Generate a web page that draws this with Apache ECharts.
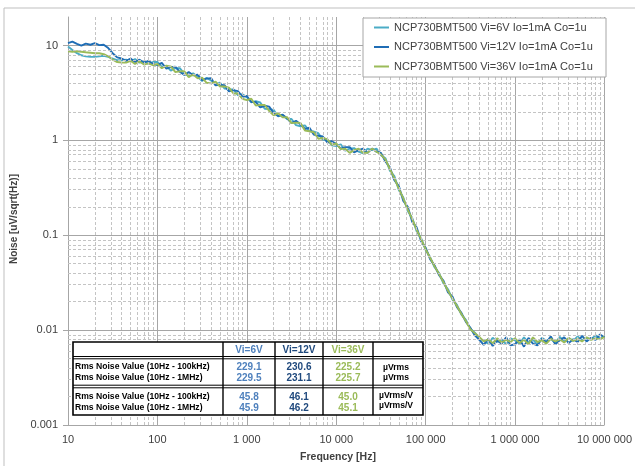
<!DOCTYPE html>
<html><head><meta charset="utf-8">
<script src="https://cdn.jsdelivr.net/npm/echarts@6/dist/echarts.min.js"></script>
<style>html,body{margin:0;padding:0;background:#fff}#c{width:635px;height:466px}</style>
</head><body><div id="c"></div>
<script>
// Frequency points [Hz]
const freqHz = [
10,11.2,12.6,14.1,15.8,17.8,20,22.4,25.1,28.2,31.6,35.5,39.8,44.7,50.1,56.2,63.1,70.8,79.4,89.1,
100,112,126,141,158,178,200,224,251,282,316,355,398,447,501,562,631,708,794,891,
1000,1122,1259,1413,1585,1778,1995,2239,2512,2818,3162,3548,3981,4467,5012,5623,6310,7079,7943,8913,
10000,11220,12590,14130,15850,17780,19950,22390,25120,28180,31620,35480,39810,44670,50120,56230,63100,70790,79430,89130,
100000,112200,125900,141300,158500,177800,199500,223900,251200,281800,316200,354800,398100,446700,501200,562300,631000,707900,794300,891300,
1000000,1122000,1259000,1413000,1585000,1778000,1995000,2239000,2512000,2818000,3162000,3548000,3981000,4467000,5012000,5623000,6310000,7079000,7943000,8913000,
10000000];

// Noise [uV/sqrt(Hz)]
const noise6V = [
9.8,9.0,8.3,7.9,7.7,7.6,7.6,7.7,7.8,7.6, 7.3,7.0,7.0,7.1,6.8,7.2,6.6,6.9,6.4,6.7,
6.72,5.95,6.12,5.45,5.77,5.78,5.04,4.80,5.10,4.70, 4.23,4.57,4.28,3.88,4.08,3.53,3.47,3.45,2.99,3.07,
2.86,2.52,2.60,2.51,2.16,2.14,2.10,1.79,1.85,1.68, 1.68,1.45,1.41,1.44,1.25,1.24,1.19,1.02,1.01,0.89,
0.87,0.91,0.78,0.82,0.83,0.76,0.73,0.82,0.79,0.82, 0.70,0.65,0.48,0.42,0.30,0.25,0.18,0.152,0.110,0.093,
0.07,0.059,0.046,0.04,0.031,0.027,0.021,0.0185,0.0146,0.0128, 0.0103,0.0094,0.0082,0.0077,0.0072,0.0083,0.0075,0.0080,0.0071,0.0082,
0.0078,0.0072,0.0084,0.0074,0.0080,0.0070,0.0083,0.0077,0.0081,0.0073, 0.0085,0.0076,0.0082,0.0077,0.0086,0.0078,0.0083,0.0080,0.0088,0.0082,
0.0087];
const noise12V = [
10.6,11.0,10.4,10.0,10.5,10.2,10.6,10.1,10.2,9.4, 8.3,7.5,7.3,6.9,7.3,6.7,7.1,6.6,6.9,6.4,
6.21,6.57,5.70,5.92,5.99,5.29,4.89,5.25,4.85,4.94, 4.32,4.48,4.54,3.80,3.85,3.83,3.29,3.39,3.31,2.89,
2.94,2.54,2.55,2.23,2.32,2.27,1.94,1.81,1.87,1.71, 1.52,1.61,1.48,1.32,1.36,1.15,1.12,1.10,0.95,0.98,
0.92,0.82,0.85,0.85,0.75,0.79,0.82,0.74,0.82,0.76, 0.74,0.60,0.52,0.38,0.33,0.23,0.20,0.138,0.121,0.086,
0.074,0.056,0.048,0.038,0.033,0.025,0.0225,0.0175,0.0152,0.0122, 0.0106,0.0088,0.0079,0.0070,0.0081,0.0068,0.0078,0.0072,0.0084,0.0069,
0.0071,0.0080,0.0067,0.0083,0.0072,0.0069,0.0081,0.0074,0.0086,0.0071, 0.0078,0.0084,0.0073,0.0080,0.0075,0.0087,0.0076,0.0083,0.0079,0.0090,
0.0084];
const noise36V = [
8.7,8.6,8.7,8.6,8.5,8.4,8.3,8.3,8.1,7.7, 7.1,6.7,6.6,6.6,6.9,6.4,6.8,6.3,6.5,6.2,
6.40,5.77,6.12,6.02,5.27,5.34,5.35,4.65,4.95,4.51, 4.59,4.05,3.99,4.16,3.70,3.71,3.60,3.12,3.12,2.75,
2.66,2.75,2.33,2.37,2.36,2.04,1.84,1.94,1.75,1.76, 1.52,1.54,1.53,1.27,1.25,1.22,1.04,1.06,1.03,0.90,
0.93,0.81,0.82,0.74,0.79,0.82,0.74,0.74,0.82,0.76, 0.71,0.63,0.50,0.40,0.31,0.245,0.186,0.148,0.114,0.091,
0.071,0.058,0.047,0.039,0.032,0.026,0.0215,0.018,0.0148,0.0125, 0.0102,0.0093,0.0085,0.0076,0.0080,0.0073,0.0082,0.0074,0.0079,0.0075,
0.0082,0.0073,0.0079,0.0071,0.0084,0.0075,0.0078,0.0072,0.0081,0.0076, 0.0080,0.0074,0.0083,0.0077,0.0081,0.0076,0.0084,0.0079,0.0082,0.0080,
0.0085];

const seriesNames = ['NCP730BMT500 Vi=6V Io=1mA Co=1u','NCP730BMT500 Vi=12V Io=1mA Co=1u','NCP730BMT500 Vi=36V Io=1mA Co=1u'];
const seriesColors = ['#4bacc6','#1f6db5','#9bbb59'];

const xTickLabels = ['10','100','1 000','10 000','100 000','1 000 000','10 000 000'];
const yTickValues = [-3,-2,-1,0,1];
const yTickLabels = ['0.001','0.01','0.1','1','10'];
const minorMantissa = [2,3,4,5,6,7,8,9];
const xDecades = [1,2,3,4,5,6];
const yDecades = [-3,-2,-1,0];

// table
const tableHeader = ['Vi=6V','Vi=12V','Vi=36V'];
const tableRowLabels = ['Rms Noise Value (10Hz - 100kHz)','Rms Noise Value (10Hz - 1MHz)','Rms Noise Value (10Hz - 100kHz)','Rms Noise Value (10Hz - 1MHz)'];
const table6V = ['229.1','229.5','45.8','45.9'];
const table12V = ['230.6','231.1','46.1','46.2'];
const table36V = ['225.2','225.7','45.0','45.1'];
const tableUnits = ['µVrms','µVrms','µVrms/V','µVrms/V'];
const tableColColors = ['#4f81bd','#1f497d','#9bbb59'];

const L = Math.log10;
function toPts(vals){ return vals.map((v,i)=>[L(freqHz[i]), L(v)]); }

const minorX = [], minorY = [];
xDecades.forEach(n=>minorMantissa.forEach(k=>minorX.push({xAxis: n + L(k)})));
yDecades.forEach(n=>minorMantissa.forEach(k=>minorY.push({yAxis: n + L(k)})));

const FONT = 'Liberation Sans';
const gridCol = '#a6a6a6';
const TZ = 50;

// table graphics
const tg = [];
const tTop = 342, tBot = 415;
tg.push({type:'rect', z:TZ, silent:true, shape:{x:73,y:tTop,width:350,height:tBot-tTop}, style:{fill:'#fff', stroke:'#000', lineWidth:1.6}});
[223,275,323,373].forEach(x=>tg.push({type:'line', z:TZ+1, silent:true, shape:{x1:x,y1:tTop,x2:x,y2:tBot}, style:{stroke:'#000', lineWidth:1.4}}));
[356.5,358.8,385.2,387.8].forEach(y=>tg.push({type:'line', z:TZ+1, silent:true, shape:{x1:73,y1:y,x2:423,y2:y}, style:{stroke:'#000', lineWidth:1}}));
const colCx = [249,299,348];
tableHeader.forEach((h,i)=>tg.push({type:'text', z:TZ+2, silent:true, x:colCx[i], y:350, style:{text:h, fill:tableColColors[i], font:'bold 10px '+FONT, align:'center', verticalAlign:'middle'}}));
const rowY = [367,378,397,408];
const unitY = [368,378,396,406];
tableRowLabels.forEach((t,r)=>{
  tg.push({type:'text', z:TZ+2, silent:true, x:75, y:rowY[r], style:{text:t, fill:'#000', font:'bold 8.6px '+FONT, align:'left', verticalAlign:'middle'}});
  [table6V,table12V,table36V].forEach((arr,c)=>tg.push({type:'text', z:TZ+2, silent:true, x:colCx[c], y:rowY[r], style:{text:arr[r], fill:tableColColors[c], font:'bold 10px '+FONT, align:'center', verticalAlign:'middle'}}));
  tg.push({type:'text', z:TZ+2, silent:true, x:396, y:unitY[r], style:{text:tableUnits[r], fill:'#000', font:'bold 8.6px '+FONT, align:'center', verticalAlign:'middle'}});
});

const chart = echarts.init(document.getElementById('c'), null, {renderer:'canvas'});
chart.setOption({
  animation:false,
  backgroundColor:'#fff',
  grid:{left:68, right:27, top:17, bottom:41, containLabel:false},
  xAxis:{type:'value', min:1, max:7, interval:1,
    axisLine:{show:true, lineStyle:{color:gridCol}},
    axisTick:{show:true, length:4, lineStyle:{color:gridCol}},
    axisLabel:{margin:9, fontFamily:FONT, fontSize:11, color:'#404040', formatter:v=>xTickLabels[Math.round(v)-1]},
    splitLine:{show:true, lineStyle:{color:gridCol, width:1}}},
  yAxis:{type:'value', min:-3, max:L(20), interval:1,
    axisLine:{show:true, lineStyle:{color:gridCol}},
    axisTick:{show:true, length:5, customValues:yTickValues, lineStyle:{color:gridCol}},
    axisLabel:{margin:10, fontFamily:FONT, fontSize:11, color:'#404040', customValues:yTickValues,
      formatter:v=>{const i=yTickValues.indexOf(Math.round(v)); return i>=0?yTickLabels[i]:'';}},
    splitLine:{show:true, lineStyle:{color:[gridCol,gridCol,gridCol,gridCol,gridCol,'rgba(0,0,0,0)'], width:1}}},
  legend:{data:seriesNames, z:60, orient:'vertical', left:374, top:22, padding:0, itemGap:8.5, itemWidth:15, itemHeight:2, icon:'rect',
    textStyle:{fontFamily:FONT, fontSize:11, color:'#404040'}},
  graphic:[
    {type:'rect', z:-10, silent:true, shape:{x:4,y:8,width:640,height:470}, style:{fill:'none', stroke:'#bfbfbf', lineWidth:1}},
    {type:'rect', z:TZ, silent:true, shape:{x:363,y:18,width:243,height:59}, style:{fill:'#fff', stroke:'#a6a6a6', lineWidth:1}},
    {type:'text', silent:true, x:14, y:219, rotation:Math.PI/2, style:{text:'Noise [uV/sqrt(Hz)]', font:'bold 10px '+FONT, fill:'#404040', align:'center', verticalAlign:'middle'}},
    {type:'text', silent:true, x:338, y:457, style:{text:'Frequency [Hz]', font:'bold 10.5px '+FONT, fill:'#404040', align:'center', verticalAlign:'middle'}},
    {type:'group', silent:true, children:tg}
  ],
  series:[
    {type:'line', name:'_grid', data:[], silent:true,
      markLine:{silent:true, symbol:['none','none'], label:{show:false}, emphasis:{disabled:true},
        lineStyle:{color:'#c4c4c4', type:[3,2], width:1}, data:minorX.concat(minorY)}},
    {type:'line', name:seriesNames[0], data:toPts(noise6V), showSymbol:false, lineStyle:{width:1.9, color:seriesColors[0]}, itemStyle:{color:seriesColors[0]}},
    {type:'line', name:seriesNames[1], data:toPts(noise12V), showSymbol:false, lineStyle:{width:1.9, color:seriesColors[1]}, itemStyle:{color:seriesColors[1]}},
    {type:'line', name:seriesNames[2], data:toPts(noise36V), showSymbol:false, lineStyle:{width:1.9, color:seriesColors[2]}, itemStyle:{color:seriesColors[2]}}
  ]
});
</script></body></html>
